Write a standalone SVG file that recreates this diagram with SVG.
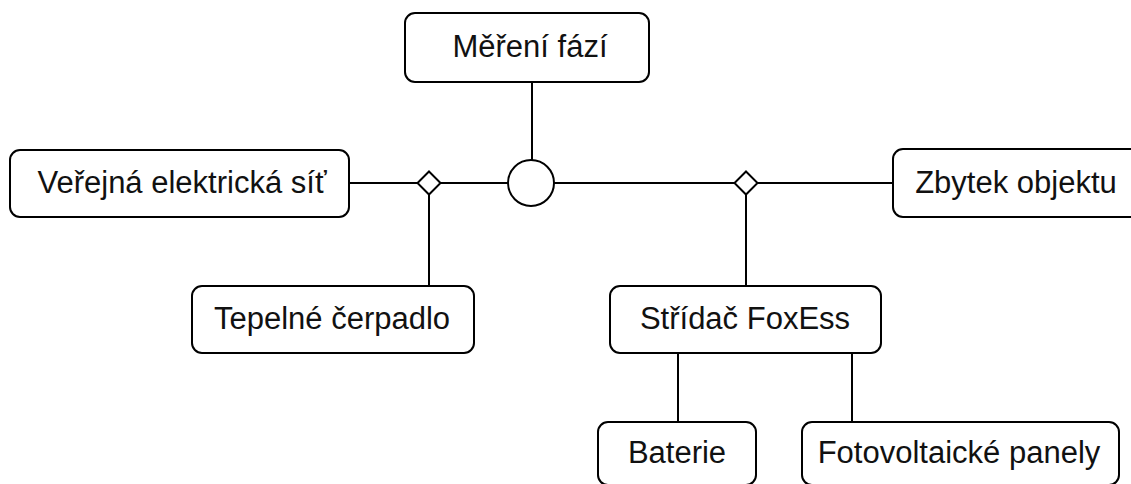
<svg xmlns="http://www.w3.org/2000/svg" width="1131" height="484" viewBox="0 0 1131 484">
<style>
.n rect{fill:#fff;stroke:#000;stroke-width:2}
.n text{font-family:"Liberation Sans",Arial,sans-serif;font-size:31px;fill:#111;text-anchor:middle;dominant-baseline:central}
.c line{stroke:#000;stroke-width:2}
.c polygon,.c circle{fill:#fff;stroke:#000;stroke-width:2}
</style>
<rect width="1131" height="484" fill="#fff"/>
<g class="c" id="connectors">
<line x1="532" y1="82" x2="532" y2="160"/>
<line x1="349" y1="183" x2="508" y2="183"/>
<line x1="554" y1="183" x2="893" y2="183"/>
<line x1="429" y1="183" x2="429" y2="286"/>
<line x1="746" y1="183" x2="746" y2="286"/>
<line x1="678" y1="353" x2="678" y2="422"/>
<line x1="852" y1="353" x2="852" y2="422"/>
<polygon points="429,171.5 440.5,183 429,194.5 417.5,183"/>
<polygon points="746,171.5 757.5,183 746,194.5 734.5,183"/>
<circle cx="531" cy="183" r="23"/>
</g>
<g class="n" id="mereni"><rect x="405" y="13" width="244" height="69" rx="10"/><text x="530" y="46">Měření fází</text></g>
<g class="n" id="sit"><rect x="10" y="150" width="339" height="67" rx="10"/><text x="182" y="182">Veřejná elektrická síť</text></g>
<g class="n" id="zbytek"><rect x="893" y="149" width="250" height="68" rx="10"/><text x="1016" y="182">Zbytek objektu</text></g>
<g class="n" id="cerpadlo"><rect x="192" y="286" width="282" height="67" rx="10"/><text x="332" y="318">Tepelné čerpadlo</text></g>
<g class="n" id="stridac"><rect x="610" y="286" width="271" height="67" rx="10"/><text x="745" y="318">Střídač FoxEss</text></g>
<g class="n" id="baterie"><rect x="598" y="422" width="158" height="63" rx="10"/><text x="677" y="452">Baterie</text></g>
<g class="n" id="panely"><rect x="802" y="422" width="317" height="63" rx="10"/><text x="959" y="452">Fotovoltaické panely</text></g>
</svg>
